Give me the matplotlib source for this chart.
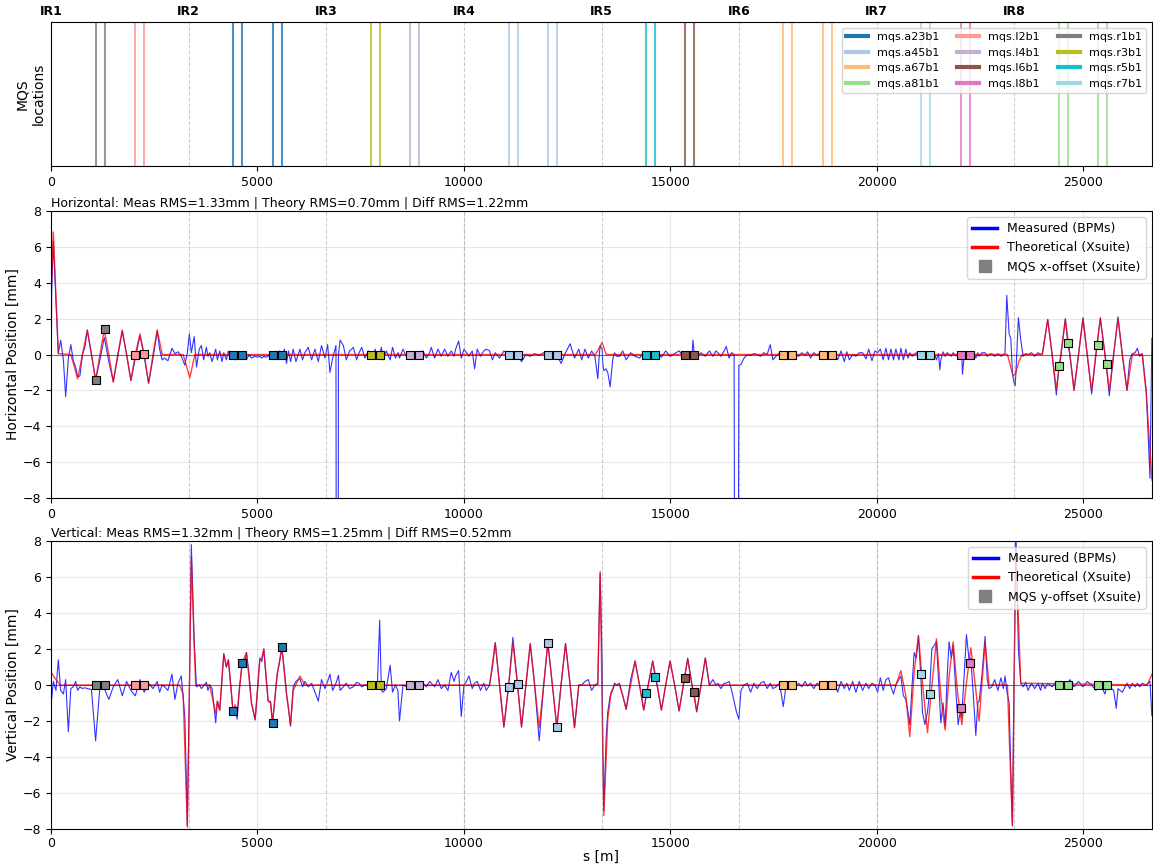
import matplotlib
matplotlib.use('Agg')
import matplotlib.pyplot as plt
import matplotlib.transforms as mtransforms
from matplotlib.lines import Line2D

# ---------------- data ----------------
circumference = 26658.88
ir_names = ['IR1', 'IR2', 'IR3', 'IR4', 'IR5', 'IR6', 'IR7', 'IR8']
ir_pos = [0.0, 3332.36, 6664.72, 9997.08, 13329.44, 16661.80, 19994.16, 23326.52]

mqs_names = ['mqs.a23b1', 'mqs.a45b1', 'mqs.a67b1', 'mqs.a81b1',
             'mqs.l2b1', 'mqs.l4b1', 'mqs.l6b1', 'mqs.l8b1',
             'mqs.r1b1', 'mqs.r3b1', 'mqs.r5b1', 'mqs.r7b1']
mqs_colors = ['#1f77b4', '#aec7e8', '#ffbb78', '#98df8a',
              '#ff9896', '#c5b0d5', '#8c564b', '#e377c2',
              '#7f7f7f', '#bcbd22', '#17becf', '#9edae5']
mqs_s = [[4405, 4628, 5371, 5586], [11080, 11296, 12046, 12252],
         [17728, 17941, 18691, 18904], [24403, 24616, 25358, 25570],
         [2042, 2257], [8700, 8914], [15360, 15580], [22034, 22245],
         [1084, 1299], [7741, 7958], [14414, 14618], [21069, 21282]]
mqs_dx = [[0, 0, 0, 0], [0, 0, 0, 0], [0, 0, 0, 0], [-0.65, 0.65, 0.55, -0.55],
          [-0.05, 0.05], [0, 0], [0, 0], [0, 0],
          [-1.4, 1.4], [0, 0], [0, 0], [0, 0]]
mqs_dy = [[-1.45, 1.25, -2.1, 2.1], [-0.1, 0.05, 2.35, -2.35], [0, 0, 0, 0], [0, 0, 0, 0],
          [0, 0], [0, 0], [0.4, -0.4], [-1.25, 1.25],
          [0, 0], [0, 0], [-0.45, 0.45], [0.6, -0.5]]

# BPM positions and measured orbit (mm)
bpm_s = [
    0, 15, 56, 120, 177, 234, 300, 355, 420, 480,
    540, 597, 645, 700, 762, 820, 879, 980, 1080, 1185,
    1290, 1400, 1508, 1617, 1726, 1830, 1935, 2042, 2153, 2257,
    2363, 2470, 2572, 2630, 2693,
    2750, 2830, 2930, 3000, 3075, 3155, 3241, 3301, 3350, 3398,
    3467, 3523, 3590, 3641, 3697, 3762, 3800,
    3843, 3900, 3988, 4029, 4085, 4140, 4183, 4247, 4296, 4350,
    4409, 4458, 4506, 4560, 4627, 4680, 4733, 4800, 4854, 4943,
    5000, 5056, 5105, 5153, 5200, 5258, 5315, 5364, 5420, 5477,
    5530, 5590, 5650, 5703, 5750, 5800, 5865, 5930, 6027, 6090, 6148,
    6230, 6310, 6391, 6472, 6550, 6634, 6698, 6755, 6820, 6900,
    6930, 6960, 7000, 7079, 7150, 7230, 7321, 7400, 7460, 7524,
    7600, 7686, 7741, 7800, 7847, 7900, 7958, 8000, 8040, 8120,
    8211, 8270, 8340, 8400, 8438, 8523, 8600, 8700, 8780, 8845,
    8914, 9006, 9090, 9168, 9208, 9289, 9370, 9450, 9530, 9611,
    9692, 9760, 9797, 9870, 9934, 10000, 10060, 10119, 10200, 10256,
    10320, 10400, 10480, 10540,
    10619, 10690, 10757, 10860, 10966, 11080, 11184, 11296, 11393, 11500,
    11604, 11710, 11821, 11930, 12030, 12140, 12248, 12350, 12458, 12570,
    12676, 12780,
    12850, 12930, 13010, 13090, 13170, 13240, 13270, 13297, 13345, 13360,
    13385, 13440, 13481, 13539, 13600, 13643, 13700,
    13764, 13845, 13926, 14035, 14143, 14250, 14352, 14414, 14470, 14570,
    14618, 14680, 14780, 14885, 14990, 15100, 15208, 15300, 15360, 15417,
    15520, 15542, 15580, 15634, 15740, 15844, 15941,
    16027, 16100, 16148, 16220, 16300, 16350, 16420, 16480, 16540, 16598,
    16655, 16707, 16780, 16860, 16940, 17020, 17100, 17180, 17260, 17340,
    17416, 17480, 17553, 17640, 17730, 17800, 17870, 17941, 18020, 18100,
    18180, 18260, 18320, 18392, 18470, 18550, 18620, 18700, 18780, 18850,
    18910, 18980, 19047, 19130, 19208, 19270, 19330, 19410, 19490, 19570,
    19652, 19733, 19800, 19878, 19950, 20015, 20080, 20150, 20216, 20280,
    20337, 20400,
    20457, 20530, 20578, 20640, 20699, 20750, 20795, 20850, 20900, 20950,
    21004, 21061, 21101, 21160, 21222, 21270, 21328, 21385, 21440, 21490,
    21521, 21546, 21600, 21650, 21700, 21746, 21800, 21843, 21900, 21965,
    22021, 22054, 22070, 22110, 22166, 22238, 22272, 22330, 22393, 22440,
    22472, 22540, 22617, 22670, 22714,
    22780, 22850, 22928, 23000, 23060, 23100, 23142, 23200, 23240, 23279,
    23310, 23344, 23360, 23424, 23481, 23540, 23600, 23658, 23740, 23819,
    23900, 23960,
    24004, 24070, 24134, 24240, 24343, 24403, 24460, 24560, 24616, 24670,
    24771, 24880, 24988, 25090, 25198, 25300, 25358, 25408, 25520, 25570,
    25625, 25730, 25794, 25835, 25940, 26053, 26120, 26182, 26250, 26303,
    26360, 26423,
    26520, 26610, 26655,
]
meas_x = [
    -4.4, 3.4, 6.3, 3.0, 0.05, 0.8, -0.3, -2.35, -0.2, 0.55,
    -0.35, -0.7, -1.25, -1.2, 0.0, 0.4, 1.35, 0.0, -1.4, -0.3,
    0.95, -0.4, -1.5, -0.1, 1.3, 0.0, -1.45, -0.2, 1.05, -0.1,
    -1.6, -0.2, 1.3, 0.3, -0.3,
    -0.2, -0.35, 0.35, 0.05, 0.15, -0.1, -0.6, 0.1, 1.15, 0.1,
    1.0, -0.7, 0.3, 0.5, -0.3, 0.4, -0.1,
    0.1, -0.4, 0.3, -0.3, 0.2, -0.4, 0.1, -0.3, 0.2, -0.2,
    0.0, -0.3, 0.1, -0.1, -0.2, 0.1, -0.3, 0.0, -0.2, -0.1,
    -0.15, -0.1, -0.2, -0.1, -0.15, -0.1, 0.1, -0.1, 0.05, -0.3,
    0.2, -0.2, 0.3, -0.5, 0.2, -0.4, 0.3, -0.4, 0.3, -0.3, 0.1,
    0.4, -0.3, 0.3, -0.4, 0.5, -0.2, 0.55, -1.0, -0.2, 0.5,
    -60.0, 0.0, 0.8, 0.5, -0.3, 0.2, 0.4, -0.3, 0.1, 0.4,
    -0.2, 0.2, 0.0, -0.25, 0.3, -0.2, 0.0, 0.4, -0.3, 0.2,
    -0.3, 0.4, -0.2, 0.1, -0.2, 0.3, -0.1, 0.0, -0.2, 0.0,
    0.0, 0.2, -0.2, 0.1, 0.4, -0.2, 0.3, -0.1, 0.3, -0.1,
    0.2, -0.1, 0.3, 0.75, -0.2, 0.3, 0.1, -0.1, 0.2, -0.8,
    0.3, -0.1, 0.2, 0.3,
    0.2, -0.3, 0.1, -0.2, 0.2, 0.0, -0.1, 0.0, -0.4, 0.0,
    -0.1, 0.05, -0.05, 0.1, 0.0, -0.1, 0.0, -0.5, 0.1, 0.6,
    -0.2, 0.3,
    -0.3, 0.3, -0.2, 0.2, -0.1, -1.35, -0.2, 0.5, 0.3, -0.5,
    -0.9, -0.8, -1.0, -1.8, -0.3, 0.1, -0.1,
    -0.1, 0.2, -0.3, 0.1, -0.1, -0.2, 0.1, 0.0, -0.1, 0.05,
    0.0, 0.1, -0.15, 0.2, -0.1, 0.05, 0.2, -0.1, 0.0, 0.1,
    -0.1, 0.8, 0.0, -0.1, 0.1, -0.1, 0.2,
    -0.1, 0.2, 0.1, -0.1, 0.2, 0.45, -0.2, 0.1, 0.0, -60.0,
    -0.6, -0.55, -0.2, 0.0, -0.05, 0.05, 0.0, -0.1, 0.1, 0.0,
    0.55, -0.3, -0.1, 0.1, 0.0, -0.3, 0.05, 0.0, 0.05, -0.1,
    0.1, -0.05, 0.15, -0.2, 0.1, -0.05, 0.1, 0.0, -0.1, 0.05,
    0.0, 0.1, -0.3, 0.2, -0.4, 0.15, -0.3, 0.0, -0.1, 0.1,
    0.1, -0.25, 0.3, -0.35, 0.2, 0.1, 0.3, -0.3, 0.35, -0.3,
    0.3, -0.3,
    0.3, -0.3, 0.35, -0.3, 0.3, -0.2, 0.1, -0.1, 0.0, 0.1,
    -0.05, 0.0, -0.1, -0.1, 0.05, 0.0, -0.3, 0.1, -0.3, 0.05,
    -0.85, -0.3, 0.15, -0.1, 0.1, 0.0, -0.1, 0.1, -0.05, -0.1,
    0.0, -0.1, -1.1, -0.1, 0.1, 0.0, -0.2, 0.1, -0.2, 0.1,
    -0.1, 0.1, 0.1, -0.1, 0.0,
    0.05, -0.1, 0.05, -0.1, 0.0, 0.05, 3.3, 1.15, 0.9, -1.0,
    -1.5, -1.75, -1.2, 2.05, 0.8, -0.1, 0.05, 0.0, 0.1, -0.1,
    0.1, 0.0,
    0.05, 1.0, 1.95, 0.0, -2.25, -0.75, 0.0, 2.0, 0.7, 0.0,
    -2.0, 0.0, 2.05, 0.0, -2.2, 0.0, 1.1, 2.05, 0.0, -1.0,
    -2.3, 0.0, 1.3, 2.1, 0.0, -2.0, -0.3, 0.05, 0.1, 0.35,
    -0.1, 0.05,
    -2.0, -6.9, 0.9,
]
meas_y = [
    0.3, -0.8, 0.2, -0.3, 1.4, -0.3, -0.5, 0.3, -2.6, -0.2,
    -0.1, 0.2, -0.3, -0.1, -0.2, -0.15, -0.2, -0.25, -3.1, -0.1,
    -0.2, -0.8, -0.1, 0.3, -0.6, 0.2, -0.3, -0.6, 0.3, -0.4,
    0.1, -0.2, 0.2, -0.4, 0.0,
    -0.1, -0.3, 0.6, -0.8, 0.1, 0.5, -1.8, -7.8, -0.5, 7.8,
    2.4, -0.1, 0.0, -0.2, -0.05, 0.15, -0.3,
    0.0, -0.2, -2.1, -0.9, -1.4, 0.3, 1.75, 1.0, 1.4, 0.0,
    -1.5, -1.2, -1.9, -0.2, 1.1, 1.0, 1.8, 0.5, -1.0, -1.95,
    -0.3, 1.5, 1.3, 2.0, 0.6, -0.9, -0.9, -2.1, -0.8, 0.6,
    1.2, 2.1, 0.8, -0.5, -1.3, -2.3, -0.1, 0.2, 0.35, -0.1, 0.2,
    -0.1, 0.1, -0.4, -0.9, 0.3, -0.2, 0.2, 0.6, -0.3, 0.1,
    0.3, 0.55, -0.3, -0.1, 0.1, -0.2, -0.1, 0.15, 0.1, -0.1,
    0.0, -0.05, 0.0, 0.1, 0.1, -0.2, 3.6, -0.3, -0.4, -0.2,
    1.1, -0.4, 0.0, -0.3, -2.0, 0.0, -0.1, 0.0, -0.1, 0.1,
    0.0, 0.1, -0.1, 0.2, 0.1, -0.1, 0.3, -0.2, 0.0, -0.3,
    0.7, 0.2, 0.5, 0.8, -1.75, 0.0, 0.2, 0.5, -0.2, 0.1,
    0.2, -0.3, 0.1, -0.3,
    0.0, 1.0, 2.35, 0.0, -2.33, -0.1, 2.65, 0.05, -2.33, 0.0,
    2.3, 0.0, -3.1, 0.0, 2.35, 0.0, -2.37, 0.0, 2.3, 0.0,
    -2.37, 0.0,
    0.0, 0.2, 0.3, -0.3, 0.0, 0.1, 3.5, 6.2, 1.3, -3.5,
    -7.0, -3.0, -1.5, -0.6, -0.3, 0.1, 0.0,
    0.1, -0.6, -1.35, 0.3, 1.33, 0.0, -1.39, -0.55, 0.1, 1.33,
    0.6, -0.1, -1.39, 0.0, 1.33, 0.0, -1.44, -0.2, 0.7, 1.5,
    0.0, -0.3, -0.6, -1.5, 0.0, 1.5, 0.0,
    0.3, 0.0, 0.1, -0.2, 0.1, 0.1, 0.2, -0.3, -0.9, -1.5,
    -1.9, -0.3, 0.0, 0.1, -0.4, 0.1, -0.2, 0.1, 0.2, -0.2,
    0.1, -0.2, -0.1, 0.1, -1.2, 0.0, 0.1, 0.0, -0.1, 0.1,
    -0.1, 0.2, -0.05, 0.1, -0.2, 0.1, 0.0, 0.0, 0.1, -0.1,
    0.0, 0.1, -0.4, 0.2, -0.2, 0.1, -0.3, 0.2, -0.4, 0.2,
    -0.3, 0.1, -0.2, 0.1, 0.0, -0.4, 0.4, -0.3, 0.3, 0.4,
    -0.1, -0.5,
    0.0, 0.3, 0.5, -0.6, -0.8, -1.5, -2.2, 0.0, 1.8, 1.5,
    2.7, 0.5, -1.5, -2.2, -1.5, -0.5, 2.0, 2.2, 2.4, 0.3,
    -0.9, -2.1, -1.0, -2.3, 0.5, 2.4, 1.5, 2.2, 0.0, -2.2,
    -1.4, -1.8, -1.0, 0.5, 2.8, 1.2, 1.5, -0.5, -2.8, -1.0,
    -0.9, 0.5, 2.7, 0.3, -0.2,
    -0.1, 0.3, -0.3, 0.4, -0.2, 0.5, -0.3, -1.0, -4.8, -7.8,
    -1.6, 5.0, 9.0, 2.0, 0.1, -0.1, 0.15, -0.3, 0.1, -0.2,
    0.1, -0.3,
    0.1, -0.2, 0.1, -0.1, 0.2, 0.0, 0.2, -0.1, 0.0, 0.3,
    -0.1, 0.2, -0.1, 0.2, 0.0, -0.3, 0.0, 0.05, -0.5, 0.0,
    -0.1, -0.3, -1.3, -0.2, -0.4, 0.1, -0.2, 0.1, -0.1, 0.1,
    -0.1, 0.1,
    0.0, 0.2, -1.7,
]

# Theoretical orbit (Xsuite), mm
theo_x_s = [0, 56, 177, 480, 645, 762, 879, 980, 1080, 1185,
            1290, 1400, 1508, 1617, 1726, 1830, 1935, 2042, 2153, 2257,
            2363, 2470, 2572, 2693, 3200, 3362, 3483,
            13185, 13345, 13440,
            23158, 23295, 23350, 23440, 23520,
            24004, 24134, 24240, 24343, 24450, 24560, 24670, 24771, 24880, 24988,
            25090, 25198, 25300, 25408, 25520, 25625, 25730, 25835, 25940, 26053,
            26182, 26423, 26520, 26658]
theo_x_v = [3.4, 6.83, 0.05, 0.0, -1.35, 0.0, 1.37, 0.0, -1.45, 0.0,
            1.37, 0.0, -1.55, 0.0, 1.37, 0.0, -1.45, 0.0, 1.15, 0.0,
            -1.6, 0.0, 1.37, 0.0, 0.0, -1.3, 0.0,
            0.0, 0.68, 0.0,
            0.0, -1.2, -1.1, -0.35, 0.0,
            0.0, 1.95, 0.0, -1.95, 0.0, 1.95, 0.0, -2.0, 0.0, 2.0,
            0.0, -2.0, 0.0, 2.0, 0.0, -2.0, 0.0, 2.0, 0.0, -2.0,
            0.0, 0.0, -2.2, -7.0]
theo_y_s = [0, 60, 120, 220,
            3115, 3200, 3301, 3350, 3398, 3467, 3503,
            3843, 3988, 4029, 4085, 4183, 4247, 4296, 4409, 4458, 4506,
            4627, 4733, 4854, 4943, 5056, 5105, 5153, 5258, 5315, 5364,
            5477, 5590, 5703, 5800, 5865, 6027, 6148,
            10619, 10757, 10860, 10966, 11080, 11184, 11296, 11393, 11500, 11604,
            11710, 11821, 11930, 12030, 12140, 12248, 12350, 12458, 12570, 12676,
            12780,
            13240, 13297, 13385, 13481, 13562, 13643,
            13764, 13845, 13926, 14035, 14143, 14250, 14352, 14460, 14570, 14680,
            14780, 14885, 14990, 15100, 15208, 15310, 15417, 15520, 15634, 15740,
            15844, 15941,
            20457, 20578, 20699, 20795, 20900, 21004, 21101, 21222, 21328, 21440,
            21546, 21650, 21746, 21843, 21950, 22054, 22160, 22272, 22380, 22472,
            22617, 22714,
            23158, 23279, 23360, 23481,
            26543, 26658]
theo_y_v = [0.72, 0.5, 0.3, 0.0,
            0.0, -0.5, -7.9, -0.4, 7.1, 2.2, 0.0,
            0.0, -1.6, -0.9, -1.4, 1.7, 1.0, 1.4, -1.5, -1.1, -1.6,
            1.25, 1.8, -1.0, -1.9, 1.4, 1.5, 2.0, -0.9, -1.0, -2.1,
            0.6, 2.1, -0.5, -2.2, -0.3, 0.5, 0.0,
            0.0, 2.35, 0.0, -2.33, 0.0, 2.35, 0.0, -2.33, 0.0, 2.3,
            0.0, -2.37, 0.0, 2.35, 0.0, -2.37, 0.0, 2.3, 0.0, -2.37,
            0.0,
            0.0, 6.3, -7.25, -1.9, -0.4, 0.0,
            0.0, -0.6, -1.35, 0.0, 1.33, 0.0, -1.39, 0.0, 1.33, 0.0,
            -1.39, 0.0, 1.33, 0.0, -1.44, 0.0, 1.43, 0.0, -1.44, 0.0,
            1.5, 0.0,
            0.0, 0.8, -0.6, -2.87, 0.7, 2.76, 0.13, -2.65, -0.05, 2.57,
            -0.6, -2.5, 0.5, 2.39, -0.4, -2.2, 0.0, 2.07, 0.0, -2.0,
            2.35, 0.0,
            0.0, -7.83, 7.7, 0.1,
            0.0, 0.6]

titles = ['Horizontal: Meas RMS=1.33mm | Theory RMS=0.70mm | Diff RMS=1.22mm',
          'Vertical: Meas RMS=1.32mm | Theory RMS=1.25mm | Diff RMS=0.52mm']
ylabels = ['Horizontal Position [mm]', 'Vertical Position [mm]']
offset_labels = ['MQS x-offset (Xsuite)', 'MQS y-offset (Xsuite)']

# ---------------- figure ----------------
W, H = 1153, 868
fig = plt.figure(figsize=(W / 100, H / 100), dpi=100)
left = 51 / W
width = 1101 / W
ax0 = fig.add_axes([left, 1 - 166 / H, width, 144 / H])
ax1 = fig.add_axes([left, 1 - 498 / H, width, 287 / H])
ax2 = fig.add_axes([left, 1 - 829 / H, width, 288 / H])

# top panel: MQS locations
handles = []
for name, col, ss in zip(mqs_names, mqs_colors, mqs_s):
    for s in ss:
        ax0.axvline(s, color=col, lw=1.5, alpha=0.8)
    handles.append(Line2D([], [], color=col, lw=3, label=name))
for p in ir_pos[1:]:
    ax0.axvline(p, color='gray', ls='--', lw=0.8, alpha=0.4)
ax0.set_xlim(0, circumference)
ax0.set_yticks([])
ax0.set_ylabel('MQS\nlocations', fontsize=10, labelpad=4)
ax0.tick_params(axis='x', labelsize=9)
ax0.legend(handles=handles, loc='upper right', ncol=3, fontsize=8,
           handlelength=2.0, columnspacing=1.6)
trans = mtransforms.blended_transform_factory(ax0.transData, ax0.transAxes)
for name, p in zip(ir_names, ir_pos):
    ax0.text(p, 1.025, name, transform=trans, ha='center', va='bottom',
             fontsize=9, fontweight='bold')

# orbit panels
n = min(len(bpm_s), len(meas_x), len(meas_y))
panels = [(ax1, meas_x, theo_x_s, theo_x_v, mqs_dx),
          (ax2, meas_y, theo_y_s, theo_y_v, mqs_dy)]
for i, (ax, meas, ts, tv, offs) in enumerate(panels):
    ax.plot(bpm_s[:n], meas[:n], color='blue', lw=0.8, alpha=0.8)
    m = min(len(ts), len(tv))
    ax.plot(ts[:m], tv[:m], color='red', lw=1.0, alpha=0.75)
    ax.axhline(0, color='black', lw=0.8, alpha=0.5)
    for p in ir_pos[1:]:
        ax.axvline(p, color='gray', ls='--', lw=0.8, alpha=0.4)
    for col, ss, oo in zip(mqs_colors, mqs_s, offs):
        ax.scatter(ss, oo, marker='s', s=26, color=col, edgecolors='black',
                   linewidths=0.8, zorder=5)
    ax.set_xlim(0, circumference)
    ax.set_ylim(-8, 8)
    ax.set_yticks(range(-8, 9, 2))
    ax.grid(True, alpha=0.3)
    ax.tick_params(labelsize=9)
    ax.set_ylabel(ylabels[i], fontsize=10, labelpad=2)
    ax.set_title(titles[i], loc='left', fontsize=9, pad=3)
    leg_handles = [Line2D([], [], color='blue', lw=2.5, label='Measured (BPMs)'),
                   Line2D([], [], color='red', lw=2.5, label='Theoretical (Xsuite)'),
                   Line2D([], [], color='gray', marker='s', ls='', markersize=9,
                          label=offset_labels[i])]
    ax.legend(handles=leg_handles, loc='upper right', fontsize=9)

ax2.tick_params(axis='x', pad=2)
ax2.set_xlabel('s [m]', fontsize=10, labelpad=0)

fig.savefig('out.png', dpi=100)
